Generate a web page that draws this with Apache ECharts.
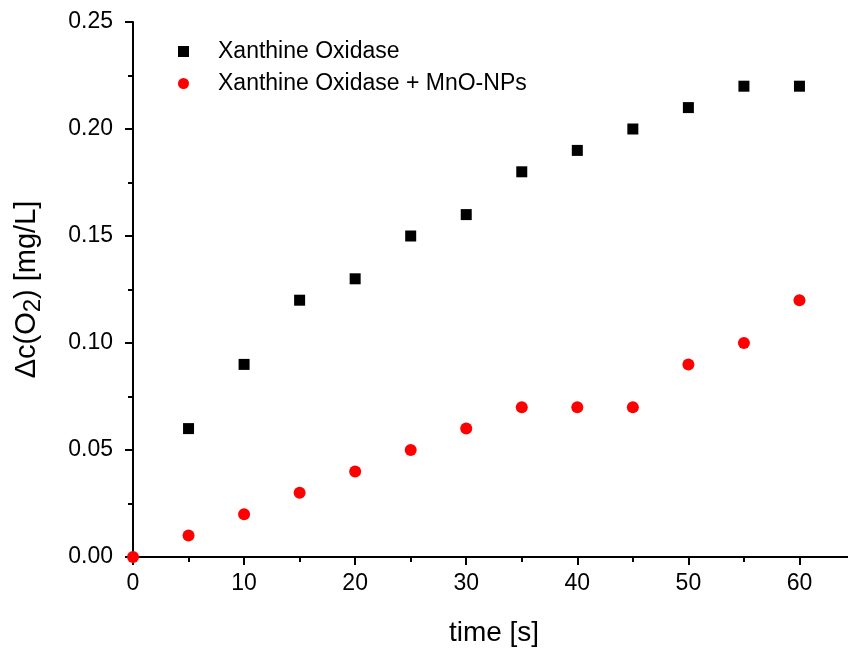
<!DOCTYPE html>
<html>
<head>
<meta charset="utf-8">
<script src="https://cdn.jsdelivr.net/npm/echarts@6/dist/echarts.min.js"></script>
<style>
  html, body { margin: 0; padding: 0; background: #fff; }
  #chart { width: 848px; height: 651px; }
</style>
</head>
<body>
<div id="chart"></div>
<script>
// data
var timeXO = [5, 10, 15, 20, 25, 30, 35, 40, 45, 50, 55, 60];
var valXO = [0.06, 0.09, 0.12, 0.13, 0.15, 0.16, 0.18, 0.19, 0.20, 0.21, 0.22, 0.22];
var timeMn = [0, 5, 10, 15, 20, 25, 30, 35, 40, 45, 50, 55, 60];
var valMn = [0.00, 0.01, 0.02, 0.03, 0.04, 0.05, 0.06, 0.07, 0.07, 0.07, 0.09, 0.10, 0.12];
var seriesNames = ['Xanthine Oxidase', 'Xanthine Oxidase + MnO-NPs'];

function pairs(xs, ys) {
    var out = [];
    for (var i = 0; i < xs.length; i++) out.push([xs[i], ys[i]]);
    return out;
}

var font = 'Liberation Sans, Arial, sans-serif';
var chart = echarts.init(document.getElementById('chart'));
var opt = {
    animation: false,
    textStyle: { fontFamily: font },
    grid: { left: 133, top: 22, width: 722, height: 535, outerBoundsMode: 'none' },
    legend: {
        orient: 'vertical',
        left: 173,
        top: 35,
        itemGap: 9,
        itemWidth: 11,
        itemHeight: 11,
        textStyle: { fontSize: 23, color: '#000', fontFamily: font, padding: [0, 0, 0, 24] },
        data: [
            { name: seriesNames[0], icon: 'rect' },
            { name: seriesNames[1], icon: 'circle' }
        ]
    },
    xAxis: {
        type: 'value',
        min: 0, max: 65, interval: 10,
        name: 'time [s]',
        nameLocation: 'middle',
        nameGap: 62,
        nameTextStyle: { fontSize: 28, color: '#000', fontFamily: font },
        axisLine: { onZero: false, lineStyle: { color: '#000', width: 2 } },
        axisTick: { inside: false, length: 8, lineStyle: { color: '#000', width: 2 } },
        minorTick: { show: true, splitNumber: 2, length: 5, lineStyle: { color: '#000', width: 2 } },
        axisLabel: { fontSize: 23, color: '#000', margin: 15, showMaxLabel: false,
            formatter: function (v) { return v <= 60 ? String(v) : ''; } },
        splitLine: { show: false }
    },
    yAxis: {
        type: 'value',
        min: 0, max: 0.25, interval: 0.05,
        name: '{n|Δc(O}{s|2}{n|) [mg/L]}',
        nameLocation: 'middle',
        nameRotate: 90,
        nameGap: 88,
        nameTextStyle: {
            color: '#000',
            rich: {
                n: { fontSize: 29, fontFamily: font, color: '#000' },
                s: { fontSize: 24, fontFamily: font, color: '#000', verticalAlign: 'bottom', padding: [12, 0, 0, 0] }
            }
        },
        axisLine: { show: true, onZero: false, lineStyle: { color: '#000', width: 2 } },
        axisTick: { show: true, inside: false, length: 8, lineStyle: { color: '#000', width: 2 } },
        minorTick: { show: true, splitNumber: 2, length: 5, lineStyle: { color: '#000', width: 2 } },
        axisLabel: { fontSize: 23, color: '#000', margin: 20,
            formatter: function (v) { return v.toFixed(2); } },
        splitLine: { show: false }
    },
    series: [
        {
            name: seriesNames[0],
            type: 'scatter',
            symbol: 'rect',
            symbolSize: 11,
            itemStyle: { color: '#000', opacity: 1 },
            data: pairs(timeXO, valXO)
        },
        {
            name: seriesNames[1],
            type: 'scatter',
            symbol: 'circle',
            symbolSize: 12,
            itemStyle: { color: '#f00', opacity: 1 },
            data: pairs(timeMn, valMn)
        }
    ]
};
chart.setOption(opt);
</script>
</body>
</html>
